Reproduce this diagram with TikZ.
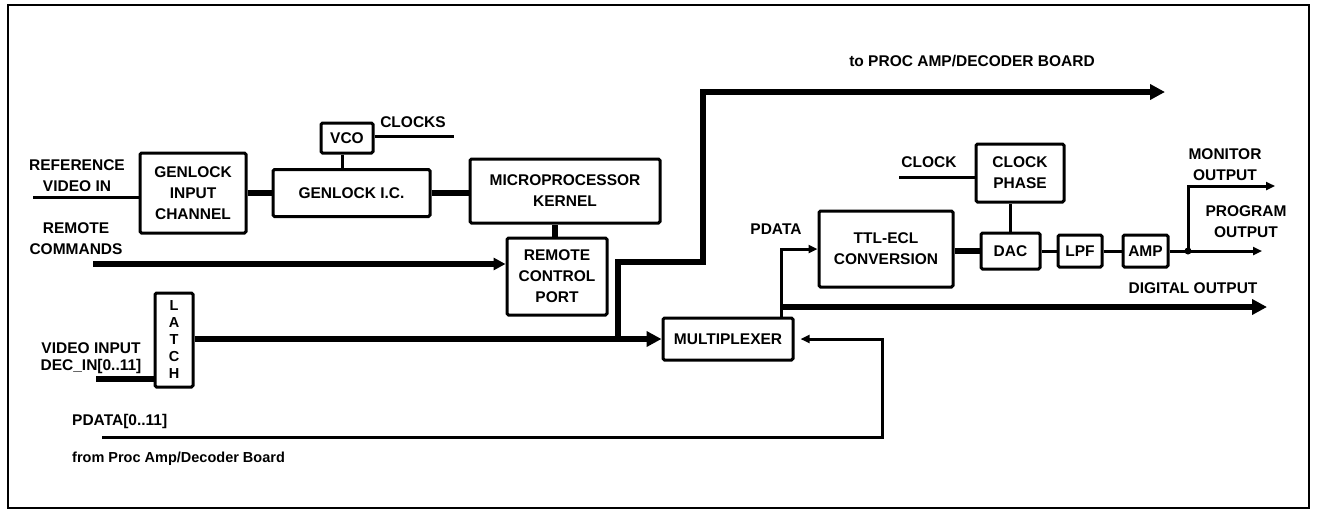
\documentclass[tikz,border=0pt]{standalone}
\usepackage{fontspec}
\setmainfont{Liberation Sans}
\usetikzlibrary{arrows.meta}
\begin{document}
\begin{tikzpicture}[x=1pt,y=-1pt,
  every node/.style={font=\bfseries\fontsize{15.5}{21}\selectfont, inner sep=0pt, align=center},
  box/.style={draw, line width=3pt, rounded corners=1.5pt},
  wire/.style={line width=3pt},
  bus/.style={line width=6.5pt},
  bigarrow/.style={-{Triangle[length=15pt,width=15pt]}},
  midarrow/.style={-{Triangle[length=12pt,width=12pt]}},
  smallarrow/.style={-{Triangle[length=9pt,width=8pt]}},
]
\useasboundingbox[fill=white] (0,0) rectangle (1317,512);
\draw[line width=2.5pt] (8,5) rectangle (1309,508);

% boxes
\node[box, minimum width=106pt, minimum height=80pt] (gic) at (193,193) {GENLOCK\\INPUT\\CHANNEL};
\node[box, minimum width=157pt, minimum height=47pt] (gen) at (351.5,193) {GENLOCK I.C.};
\node[box, minimum width=52pt, minimum height=30pt] (vco) at (347,138) {VCO};
\node[box, minimum width=190pt, minimum height=64pt] (micro) at (565,191) {MICROPROCESSOR\\KERNEL};
\node[box, minimum width=100pt, minimum height=77pt] (rcp) at (557,276.5) {REMOTE\\CONTROL\\PORT};
\node[box, minimum width=38pt, minimum height=94pt, font=\bfseries\fontsize{14.5}{17}\selectfont] (latch) at (174,340) {L\\A\\T\\C\\H};
\node[box, minimum width=130pt, minimum height=42pt] (mux) at (728,339) {MULTIPLEXER};
\node[box, minimum width=134pt, minimum height=76pt] (ttl) at (886,249) {TTL-ECL\\CONVERSION};
\node[box, minimum width=88pt, minimum height=58pt] (cph) at (1020,173) {CLOCK\\PHASE};
\node[box, minimum width=59pt, minimum height=36pt] (dac) at (1010.5,251) {DAC};
\node[box, minimum width=44pt, minimum height=32pt] (lpf) at (1080,251) {LPF};
\node[box, minimum width=45pt, minimum height=32pt] (amp) at (1145.5,251) {AMP};

% labels
\node (lref) at (77,176) {REFERENCE\\VIDEO IN};
\node (lrem) at (76,238.5) {REMOTE\\COMMANDS};
\node[font=\bfseries\fontsize{15.5}{16.5}\selectfont] (lvid) at (91,358) {VIDEO INPUT\\DEC\_IN[0..11]};
\node[anchor=west] (lpd) at (72,421) {PDATA[0..11]};
\node[anchor=west, font=\bfseries\fontsize{14.5}{18}\selectfont] (lfrom) at (72,459) {from Proc Amp/Decoder Board};
\node (lclks) at (413,122) {CLOCKS};
\node (lto) at (972,61) {to PROC AMP/DECODER BOARD};
\node (lpdata) at (776,229) {PDATA};
\node (lclk) at (929,162) {CLOCK};
\node (lmon) at (1225,165) {MONITOR\\OUTPUT};
\node (lprog) at (1246,222) {PROGRAM\\OUTPUT};
\node (ldig) at (1193,288) {DIGITAL OUTPUT};

% free ends and bends
\coordinate (refin) at (33,197);
\coordinate (clkend) at (454,136);
\coordinate (rcmd) at (93,264);
\coordinate (vin) at (96,379);
\coordinate (j1) at (618,339);
\coordinate (b1) at (618,262);
\coordinate (b2) at (703,262);
\coordinate (b3) at (703,92);
\coordinate (toproc) at (1165,92);
\coordinate (pin) at (102,437);
\coordinate (r1) at (882,437);
\coordinate (r2) at (882,339);
\coordinate (pd) at (781,300);
\coordinate (dout) at (1267,307);
\coordinate (clkin) at (899,177);
\coordinate (jn) at (1188,251);
\coordinate (progend) at (1262,251);
\coordinate (monend) at (1275,186);

% connectors
\draw[wire] (refin) -- (refin -| gic.west);
\draw[bus] (gic.east) -- (gen.west);
\draw[wire] (vco.south -| 342,0) -- (gen.north -| 342,0);
\draw[wire] (vco.east |- clkend) -- (clkend);
\draw[bus] (gen.east) -- (gen.east -| micro.west);
\draw[bus] (rcp.north -| 555,0) -- (micro.south -| 555,0);
\draw[bus, midarrow] (rcmd) -- (rcmd -| rcp.west);
\draw[bus] (vin) -- (vin -| latch.west);
\draw[bus, bigarrow] (latch.east |- mux.west) -- (mux.west);
\draw[bus, bigarrow] (j1) -- (b1) -- (b2) -- (b3) -- (toproc);
\draw[wire, smallarrow, shorten >=6pt] (pin) -- (r1) -- (r2) -- (mux.east);
\draw[wire, smallarrow] (mux.north -| pd) -- (pd |- ttl.west) -- (ttl.west);
\draw[bus, bigarrow] (pd |- dout) -- (dout);
\draw[bus] (ttl.east |- dac.west) -- (dac.west);
\draw[wire] (dac.north) -- (dac.north |- cph.south);
\draw[wire] (clkin) -- (clkin -| cph.west);
\draw[wire] (dac.east) -- (lpf.west);
\draw[wire] (lpf.east) -- (amp.west);
\draw[wire] (amp.east) -- (jn);
\draw[wire, smallarrow] (jn) -- (progend);
\draw[wire, smallarrow] (jn) |- (monend);
\fill (jn) circle (3.5pt);
\end{tikzpicture}
\end{document}
